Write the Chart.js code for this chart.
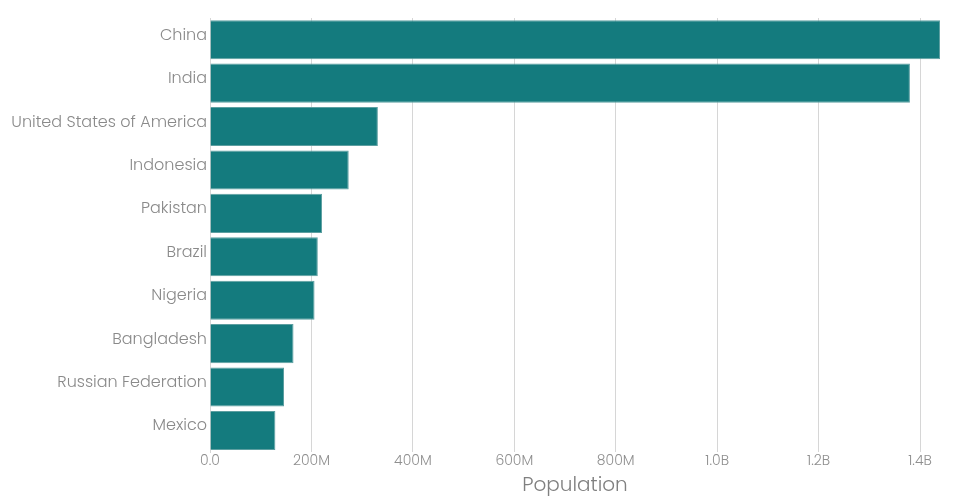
<!DOCTYPE html>
<html>
<head>
<meta charset="utf-8">
<script src="https://cdn.jsdelivr.net/npm/chart.js@4.4.0/dist/chart.umd.min.js"></script>
<style>
  html, body { margin: 0; padding: 0; background: #fff; }
  #wrap { width: 960px; height: 500px; position: relative; }
</style>
</head>
<body>
<div id="wrap"><canvas id="c"></canvas></div>
<script>
const countries = ["China", "India", "United States of America", "Indonesia", "Pakistan", "Brazil", "Nigeria", "Bangladesh", "Russian Federation", "Mexico"];
const population = [1439323776, 1380004385, 331002651, 273523615, 220892340, 212559417, 206139589, 164689383, 145934462, 128932753];
const tickValues = [0, 200000000, 400000000, 600000000, 800000000, 1000000000, 1200000000, 1400000000];
const tickLabels = ["0.0", "200M", "400M", "600M", "800M", "1.0B", "1.2B", "1.4B"];
const axisTitle = "Population";

const FONT = "Poppins, Lato, 'Open Sans', sans-serif";

new Chart(document.getElementById('c'), {
  type: 'bar',
  data: {
    labels: countries,
    datasets: [{
      label: axisTitle,
      data: population,
      backgroundColor: '#147b7e',
      borderColor: '#5d9fa1',
      borderWidth: 1,
      borderSkipped: 'start',
      categoryPercentage: 1.0,
      barPercentage: 0.9
    }]
  },
  options: {
    indexAxis: 'y',
    responsive: true,
    maintainAspectRatio: false,
    animation: false,
    layout: { padding: { top: 18, right: 20, bottom: 2, left: 0 } },
    plugins: { legend: { display: false }, tooltip: { enabled: false } },
    scales: {
      x: {
        min: 0,
        max: Math.max(...population),
        afterBuildTicks: (scale) => {
          scale.ticks = tickValues.map(v => ({ value: v }));
        },
        grid: { color: '#d6d6d6', lineWidth: 1, drawTicks: false },
        border: { display: false },
        ticks: {
          color: '#8f8f8f',
          padding: 1,
          autoSkip: false,
          maxRotation: 0,
          font: { family: FONT, size: 14, weight: 300 },
          callback: (v) => {
            const i = tickValues.indexOf(v);
            return i >= 0 ? tickLabels[i] : '';
          }
        },
        title: {
          display: true,
          text: axisTitle,
          color: '#808080',
          padding: { top: 3, bottom: 0 },
          font: { family: FONT, size: 20, weight: 300 }
        }
      },
      y: {
        afterFit: (scale) => { scale.width = 210; },
        grid: { display: false, drawTicks: false },
        border: { display: true, color: '#d6d6d6' },
        ticks: {
          color: '#8a8a8a',
          padding: 3,
          labelOffset: -4,
          font: { family: FONT, size: 16, weight: 300 }
        }
      }
    }
  }
});
</script>
</body>
</html>
